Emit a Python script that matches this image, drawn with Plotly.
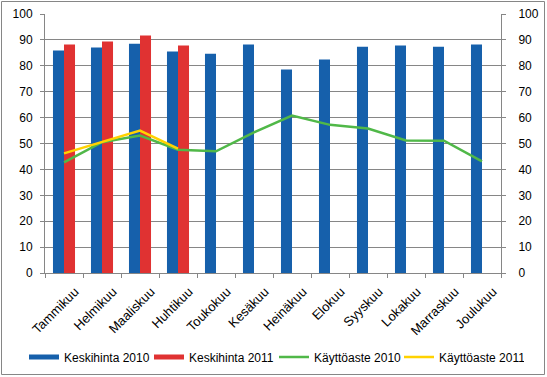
import plotly.graph_objects as go

months = ["Tammikuu", "Helmikuu", "Maaliskuu", "Huhtikuu", "Toukokuu", "Kesäkuu",
          "Heinäkuu", "Elokuu", "Syyskuu", "Lokakuu", "Marraskuu", "Joulukuu"]
keskihinta_2010 = [85.9, 87.1, 88.5, 85.5, 84.7, 88.2, 78.6, 82.4, 87.4, 87.8, 87.4, 88.2]
keskihinta_2011 = [88.2, 89.4, 91.7, 87.8, None, None, None, None, None, None, None, None]
kayttoaste_2010 = [42.7, 50.5, 53.1, 47.6, 47.0, 54.3, 60.8, 57.2, 55.8, 51.2, 51.1, 43.1]
kayttoaste_2011 = [46.2, 50.7, 55.0, 48.0, None, None, None, None, None, None, None, None]
y_ticks = list(range(0, 101, 10))

BLUE, RED, GREEN, YELLOW = "#1660ab", "#e03232", "#50b848", "#ffd200"
W, H = 547, 377
ml, mr, mt, mb = 45, 46, 14, 104
pw = W - ml - mr
ph = H - mt - mb
FONT = "Liberation Sans, Arial, sans-serif"
font = dict(family=FONT, size=12, color="#000000")
xfont = dict(family=FONT, size=13, color="#000000")

fig = go.Figure()
fig.add_trace(go.Bar(x=months, y=keskihinta_2010, name="Keskihinta 2010",
                     legendgroup="k2010", showlegend=False,
                     marker=dict(color=BLUE, line=dict(width=0))))
fig.add_trace(go.Bar(x=months, y=keskihinta_2011, name="Keskihinta 2011",
                     legendgroup="k2011", showlegend=False,
                     marker=dict(color=RED, line=dict(width=0))))
# legend keys drawn as wide rectangles like the original (no data points)
fig.add_trace(go.Scatter(x=[None], y=[None], name="Keskihinta 2010", mode="lines",
                         legendgroup="k2010", line=dict(color=BLUE, width=5)))
fig.add_trace(go.Scatter(x=[None], y=[None], name="Keskihinta 2011", mode="lines",
                         legendgroup="k2011", line=dict(color=RED, width=5)))
fig.add_trace(go.Scatter(x=months, y=kayttoaste_2010, name="Käyttöaste 2010", mode="lines",
                         line=dict(color=GREEN, width=2.5), yaxis="y2"))
fig.add_trace(go.Scatter(x=months, y=kayttoaste_2011, name="Käyttöaste 2011", mode="lines",
                         line=dict(color=YELLOW, width=2.5), yaxis="y2"))

axis_common = dict(showline=True, linecolor="#868686", linewidth=1, ticks="outside",
                   ticklen=4, tickcolor="#868686", automargin=False)

fig.update_layout(
    width=W, height=H,
    margin=dict(l=ml, r=mr, t=mt, b=mb, autoexpand=False),
    paper_bgcolor="white", plot_bgcolor="white",
    font=font,
    barmode="group", bargap=0.42, bargroupgap=0,
    xaxis=dict(tickangle=-45, showgrid=False, tickson="boundaries", tickfont=xfont,
               ticklabelshift=11, ticklabelstandoff=5, **axis_common),
    yaxis=dict(range=[0, 100], tickvals=y_ticks, showgrid=True, gridcolor="#868686",
               gridwidth=1, zeroline=False, ticklabelstandoff=5, tickfont=font,
               **axis_common),
    yaxis2=dict(range=[0, 100], tickvals=y_ticks, overlaying="y", side="right",
                showgrid=False, zeroline=False, ticklabelstandoff=10, tickfont=font,
                **axis_common),
    legend=dict(orientation="h", x=(24 - ml) / pw, xanchor="left",
                y=(H - mb - 357) / ph, yanchor="middle",
                font=dict(family=FONT, size=12, color="#000000"),
                entrywidth=80, entrywidthmode="pixels", tracegroupgap=0),
    shapes=[dict(type="rect", xref="paper", yref="paper",
                 x0=(1.5 - ml) / pw, x1=(544.5 - ml) / pw,
                 y0=(H - mb - 374.5) / ph, y1=(H - mb - 1.5) / ph,
                 line=dict(color="#868686", width=1), fillcolor="rgba(0,0,0,0)",
                 layer="below")],
)

fig.write_html("out.html", config={"displayModeBar": False},
               post_script="document.body.style.margin='0px';")
